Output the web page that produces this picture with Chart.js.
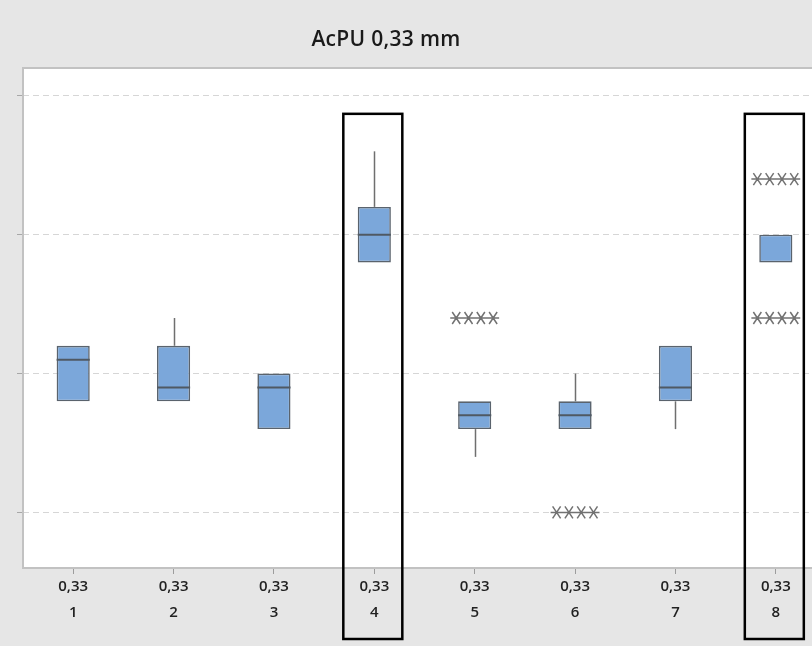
<!DOCTYPE html>
<html>
<head>
<meta charset="utf-8">
<script src="https://cdn.jsdelivr.net/npm/chart.js@4.4.1/dist/chart.umd.min.js"></script>
<style>
  html, body { margin: 0; padding: 0; overflow: hidden; background: #e6e6e6; }
  #contenedor { width: 830px; height: 646px; }
</style>
</head>
<body>
<div id="contenedor"><canvas id="boxplot"></canvas></div>
<script>
const titulo = 'AcPU 0,33 mm';
const categorias = ['1', '2', '3', '4', '5', '6', '7', '8'];
const espesores = ['0,33', '0,33', '0,33', '0,33', '0,33', '0,33', '0,33', '0,33'];
const q1 = [4, 4, 3, 9, 3, 3, 4, 9];
const q3 = [6, 6, 5, 11, 4, 4, 6, 10];
const medianas = [5.5, 4.5, 4.5, 10, 3.5, 3.5, 4.5, null];
const bigoteInf = [4, 4, 3, 9, 2, 3, 3, 9];
const bigoteSup = [6, 7, 5, 13, 4, 5, 6, 10];
const atipicos = [[], [], [], [], [7, 7, 7, 7], [0, 0, 0, 0], [], [12, 12, 12, 12, 7, 7, 7, 7]];
const marcasY = [0, 5, 10, 15];
const destacados = ['4', '8'];

const cajas = categorias.map((c, i) => [q1[i], q3[i]]);

const pluginBoxplot = {
  id: 'boxplot',
  beforeDraw(chart) {
    const { ctx, chartArea: a } = chart;
    ctx.save();
    ctx.fillStyle = '#e6e6e6';
    ctx.fillRect(0, 0, chart.width, chart.height);
    ctx.fillStyle = '#ffffff';
    ctx.fillRect(a.left, a.top, a.right - a.left, a.bottom - a.top);
    ctx.restore();
  },
  beforeDatasetsDraw(chart) {
    const { ctx, scales: { x, y } } = chart;
    ctx.save();
    // bigotes
    ctx.strokeStyle = '#6f6f6f';
    ctx.lineWidth = 1.5;
    categorias.forEach((c, i) => {
      const px = Math.round(x.getPixelForValue(i)) + 0.5;
      ctx.beginPath();
      ctx.moveTo(px, y.getPixelForValue(bigoteSup[i]));
      ctx.lineTo(px, y.getPixelForValue(q3[i]));
      ctx.moveTo(px, y.getPixelForValue(q1[i]));
      ctx.lineTo(px, y.getPixelForValue(bigoteInf[i]));
      ctx.stroke();
    });
    ctx.restore();
  },
  afterDatasetsDraw(chart) {
    const { ctx, scales: { x, y } } = chart;
    const meta = chart.getDatasetMeta(0);
    ctx.save();
    // medianas
    ctx.strokeStyle = '#4f5963';
    ctx.lineWidth = 2;
    medianas.forEach((m, i) => {
      if (m === null) return;
      const barra = meta.data[i];
      const py = y.getPixelForValue(m);
      ctx.beginPath();
      ctx.moveTo(barra.x - barra.width / 2, py);
      ctx.lineTo(barra.x + barra.width / 2, py);
      ctx.stroke();
    });
    // valores atipicos
    ctx.strokeStyle = '#727272';
    ctx.lineWidth = 1.5;
    atipicos.forEach((lista, i) => {
      const cx = x.getPixelForValue(i);
      const grupos = {};
      lista.forEach((v) => { grupos[v] = (grupos[v] || 0) + 1; });
      Object.keys(grupos).forEach((v) => {
        const n = grupos[v];
        const py = y.getPixelForValue(Number(v));
        const paso = 12.3;
        ctx.beginPath();
        ctx.moveTo(cx - (n - 1) / 2 * paso - 6, py);
        ctx.lineTo(cx + (n - 1) / 2 * paso + 6, py);
        for (let k = 0; k < n; k++) {
          const sx = cx + (k - (n - 1) / 2) * paso;
          ctx.moveTo(sx - 4, py - 6);
          ctx.lineTo(sx + 4, py + 6);
          ctx.moveTo(sx + 4, py - 6);
          ctx.lineTo(sx - 4, py + 6);
        }
        ctx.stroke();
      });
    });
    ctx.restore();
  },
  afterDraw(chart) {
    const { ctx, chartArea: a, scales: { x, y } } = chart;
    ctx.save();
    // marco del area de trazado
    ctx.strokeStyle = '#c2c2c2';
    ctx.lineWidth = 2;
    ctx.strokeRect(a.left, a.top, a.right - a.left, a.bottom - a.top);
    // titulo
    ctx.fillStyle = '#1a1a1a';
    ctx.font = "600 21px 'Open Sans', sans-serif";
    ctx.letterSpacing = '0.3px';
    ctx.textAlign = 'center';
    ctx.textBaseline = 'middle';
    ctx.fillText(titulo, 386, 40);
    ctx.letterSpacing = '0px';
    // recuadros destacados
    ctx.strokeStyle = '#000000';
    ctx.lineWidth = 2.5;
    destacados.forEach((c) => {
      const cx = x.getPixelForValue(categorias.indexOf(c));
      const arriba = y.getPixelForValue(14.35);
      ctx.strokeRect(cx - 31, arriba, 59, a.bottom + 71 - arriba);
    });
    ctx.restore();
  }
};

new Chart(document.getElementById('boxplot'), {
  type: 'bar',
  data: {
    labels: categorias,
    datasets: [{
      data: cajas,
      backgroundColor: '#7ba7da',
      borderColor: '#5a636d',
      borderWidth: 1.6,
      borderSkipped: false,
      barPercentage: 0.33,
      categoryPercentage: 1
    }]
  },
  options: {
    responsive: true,
    maintainAspectRatio: false,
    animation: false,
    layout: {
      padding: { left: 17, right: 4, top: 68, bottom: 21 }
    },
    plugins: {
      legend: { display: false },
      tooltip: { enabled: false }
    },
    scales: {
      x: {
        grid: {
          drawOnChartArea: false,
          offset: false,
          tickLength: 6,
          tickColor: '#9c9c9c'
        },
        border: { display: false },
        ticks: {
          padding: 0,
          color: '#222222',
          font: { size: 15, weight: '600', family: "'Open Sans', sans-serif", lineHeight: 1.7 },
          callback: (valor, i) => [espesores[i], categorias[i]]
        }
      },
      y: {
        min: -2,
        max: 16,
        afterBuildTicks: (escala) => {
          escala.ticks = marcasY.map((v) => ({ value: v }));
        },
        grid: {
          color: '#d6d6d6',
          tickLength: 6,
          tickColor: '#a8a8a8',
          tickBorderDash: [],
          lineWidth: 1
        },
        border: { display: false, dash: [6, 4] },
        ticks: { display: false }
      }
    }
  },
  plugins: [pluginBoxplot]
});
</script>
</body>
</html>
